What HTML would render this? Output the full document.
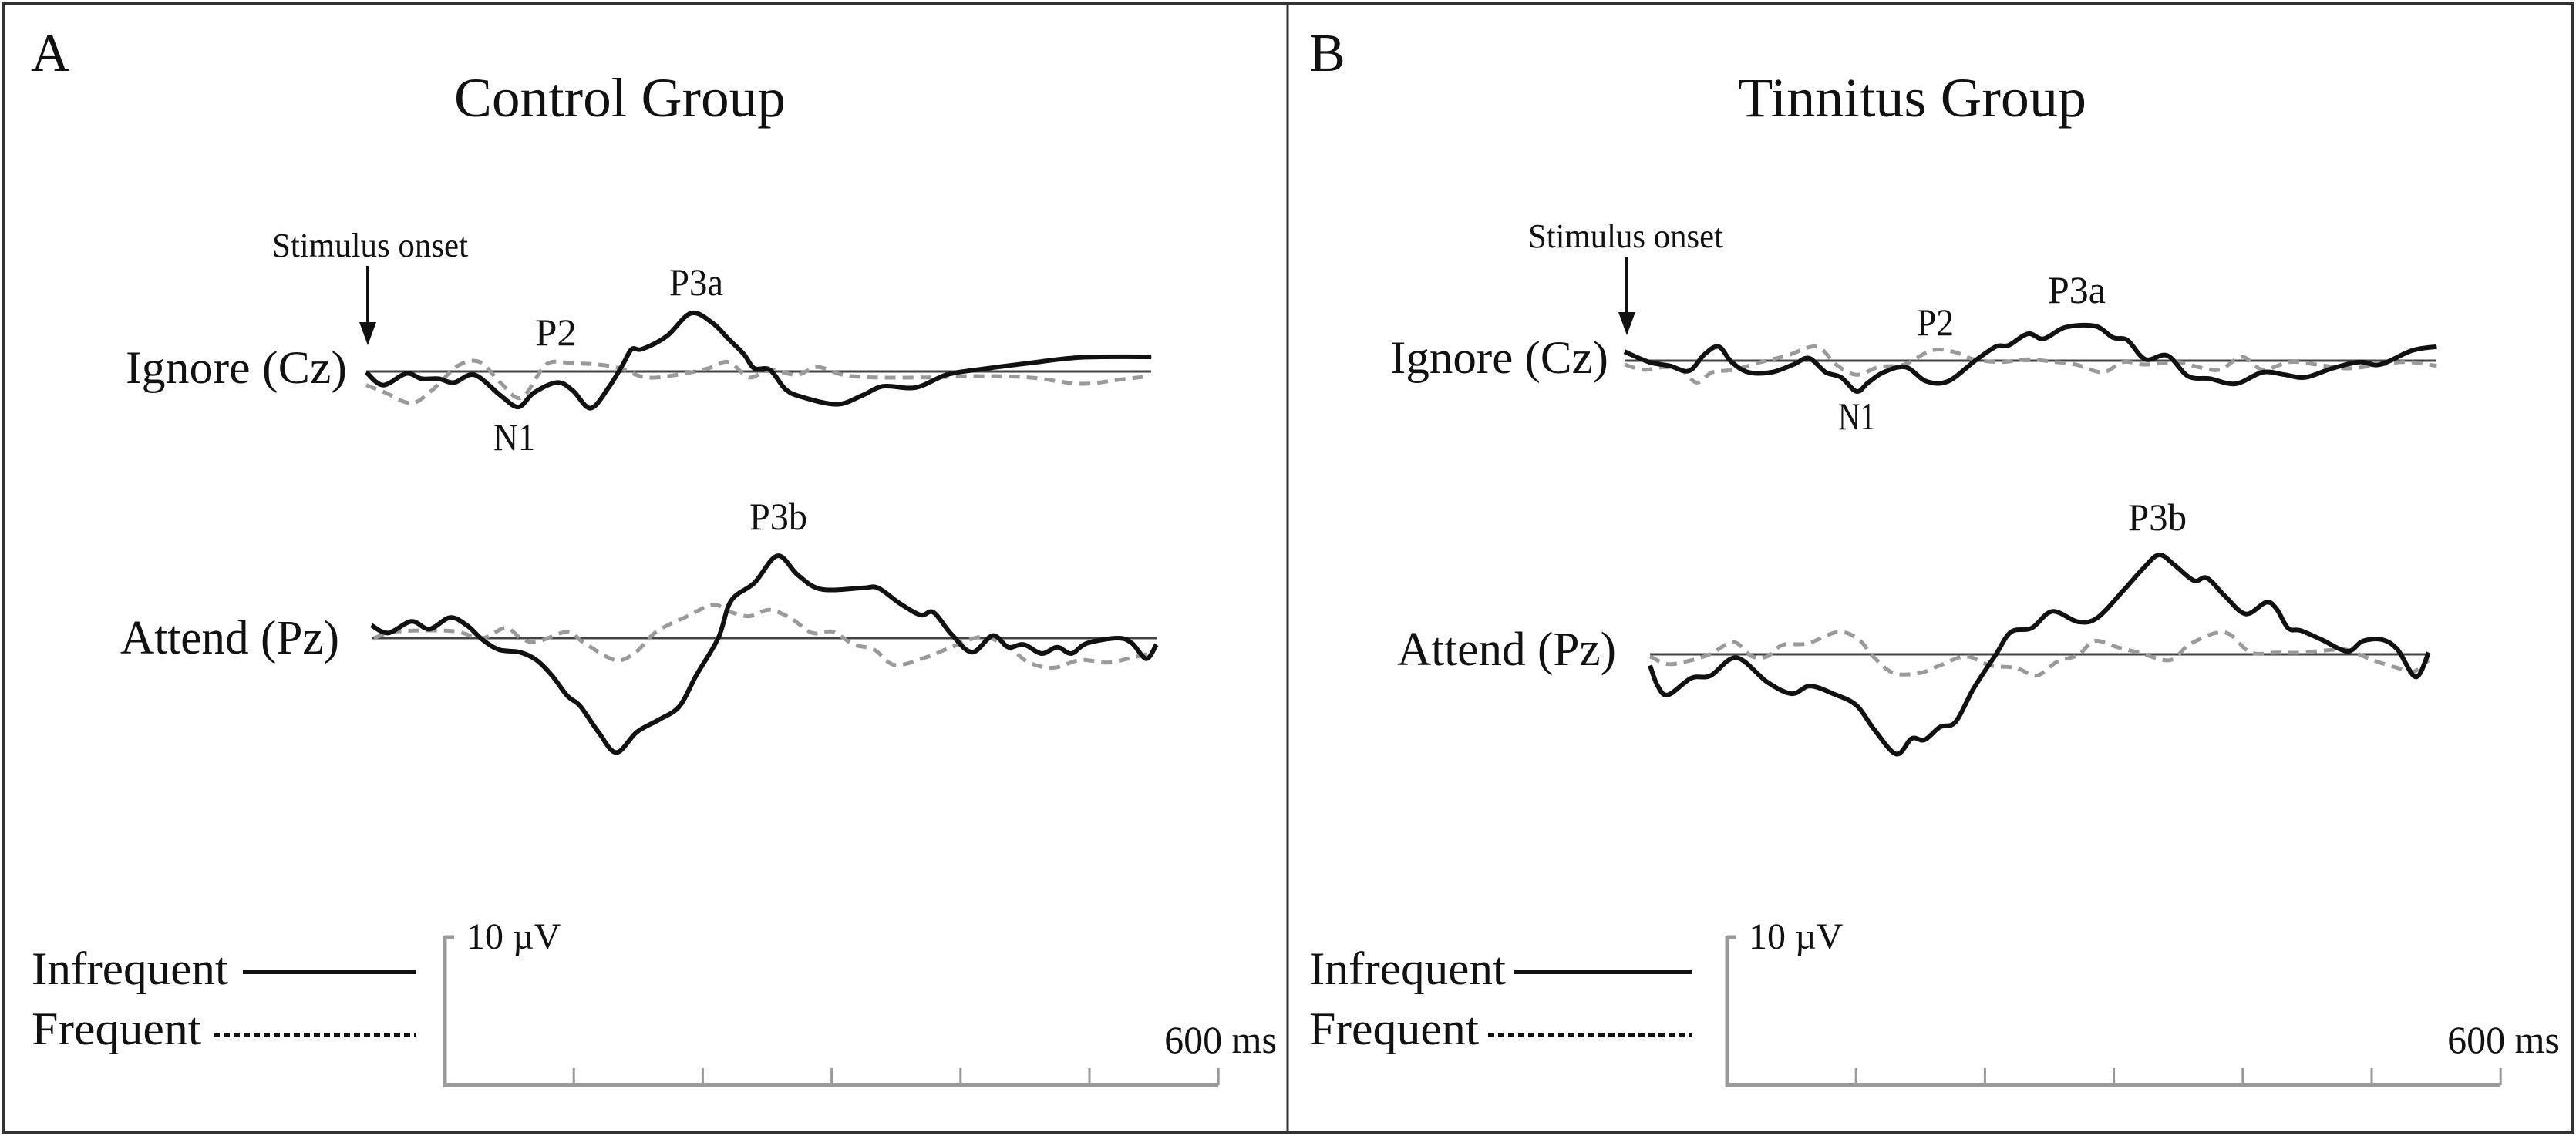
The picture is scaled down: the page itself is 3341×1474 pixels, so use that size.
<!DOCTYPE html>
<html><head><meta charset="utf-8"><style>
html,body{margin:0;padding:0;background:#fff}
svg{display:block}
text{font-family:"Liberation Serif",serif;fill:#111}
</style></head><body>
<svg id="fig" width="3341" height="1474" viewBox="0 0 3341 1474" xmlns="http://www.w3.org/2000/svg">
<rect x="4" y="4" width="3333" height="1465" fill="#fff" stroke="#333" stroke-width="4"/>
<line x1="1670" y1="4" x2="1670" y2="1469" stroke="#333" stroke-width="3"/>
<g id="panelA">
<text x="40" y="92" font-size="70">A</text>
<text x="589" y="151" font-size="72" textLength="430" lengthAdjust="spacingAndGlyphs">Control Group</text>
<text x="353" y="333" font-size="44" textLength="254" lengthAdjust="spacingAndGlyphs">Stimulus onset</text>
<line x1="477" y1="345" x2="477" y2="425" stroke="#111" stroke-width="4"/>
<polygon points="466,418 488,418 477,448" fill="#111"/>
<text x="163" y="497" font-size="60" textLength="287" lengthAdjust="spacingAndGlyphs">Ignore (Cz)</text>
<text x="156" y="848" font-size="62" textLength="284" lengthAdjust="spacingAndGlyphs">Attend (Pz)</text>
<text x="868" y="383" font-size="50" textLength="70" lengthAdjust="spacingAndGlyphs">P3a</text>
<text x="694" y="448" font-size="50" textLength="54" lengthAdjust="spacingAndGlyphs">P2</text>
<text x="640" y="584" font-size="50" textLength="54" lengthAdjust="spacingAndGlyphs">N1</text>
<text x="972" y="687" font-size="50" textLength="75" lengthAdjust="spacingAndGlyphs">P3b</text>
<text x="41" y="1277" font-size="60" textLength="255" lengthAdjust="spacingAndGlyphs">Infrequent</text>
<line x1="315" y1="1261" x2="539" y2="1261" stroke="#111" stroke-width="6"/>
<text x="41" y="1355" font-size="60" textLength="220" lengthAdjust="spacingAndGlyphs">Frequent</text>
<line x1="277" y1="1343" x2="539" y2="1343" stroke="#111" stroke-width="6" stroke-dasharray="8 5"/>
</g>
<g id="panelB">
<text x="1698" y="92" font-size="70">B</text>
<text x="2254" y="151" font-size="72" textLength="452" lengthAdjust="spacingAndGlyphs">Tinnitus Group</text>
<text x="1982" y="321" font-size="44" textLength="253" lengthAdjust="spacingAndGlyphs">Stimulus onset</text>
<line x1="2110" y1="333" x2="2110" y2="412" stroke="#111" stroke-width="4"/>
<polygon points="2099,405 2121,405 2110,435" fill="#111"/>
<text x="1803" y="484" font-size="60" textLength="283" lengthAdjust="spacingAndGlyphs">Ignore (Cz)</text>
<text x="1812" y="863" font-size="62" textLength="284" lengthAdjust="spacingAndGlyphs">Attend (Pz)</text>
<text x="2656" y="393" font-size="50" textLength="75" lengthAdjust="spacingAndGlyphs">P3a</text>
<text x="2486" y="435" font-size="50" textLength="48" lengthAdjust="spacingAndGlyphs">P2</text>
<text x="2384" y="557" font-size="50" textLength="48" lengthAdjust="spacingAndGlyphs">N1</text>
<text x="2760" y="688" font-size="50" textLength="76" lengthAdjust="spacingAndGlyphs">P3b</text>
<text x="1698" y="1277" font-size="60" textLength="255" lengthAdjust="spacingAndGlyphs">Infrequent</text>
<line x1="1964" y1="1261" x2="2194" y2="1261" stroke="#111" stroke-width="6"/>
<text x="1698" y="1355" font-size="60" textLength="220" lengthAdjust="spacingAndGlyphs">Frequent</text>
<line x1="1930" y1="1343" x2="2194" y2="1343" stroke="#111" stroke-width="6" stroke-dasharray="8 5"/>
</g>
</svg>
<script>
// ---- data (time in ms, amplitude in µV, positive up) ----
const aIgnInfT=[0,13,31,43,56,68,84,104,118,130,148,160,174,188,199,206,214,233,252,269,281,293,301,313,325,337,365,385,401,426,450,474,514,554,609];
const aIgnInfV=[-0.05,-0.92,-0.14,-0.49,-0.49,-0.75,-0.23,-1.61,-2.4,-1.44,-0.75,-1.27,-2.48,-1.09,0.47,1.51,1.51,2.38,3.94,3.25,2.2,1.16,0.21,0.12,-1.18,-1.7,-2.22,-1.61,-1.0,-1.09,-0.23,0.12,0.56,0.95,0.99];
const aIgnFreT=[0,15,35,51,71,88,104,120,136,144,160,180,197,217,241,265,281,297,313,334,350,370,394,434,474,514,554,583,607];
const aIgnFreV=[-0.92,-1.44,-2.14,-1.27,0.38,0.64,-0.75,-1.79,0.12,0.64,0.56,0.47,0.21,-0.4,-0.23,0.21,0.64,-0.4,0.12,-0.23,0.3,-0.23,-0.4,-0.4,-0.31,-0.4,-0.83,-0.57,-0.31];
const aAttInfT=[4,17,35,49,65,78,90,103,119,132,144,156,166,180,194,210,228,243,256,273,283,301,319,335,353,385,397,414,430,440,454,470,486,498,510,524,536,547,559,583,594,605,613];
const aAttInfV=[0.87,0.35,1.13,0.61,1.39,0.87,-0.09,-0.78,-0.95,-1.48,-2.52,-3.9,-4.6,-6.34,-7.73,-6.34,-5.47,-4.6,-2.52,0,2.52,3.73,5.56,4.25,3.3,3.39,3.39,2.34,1.56,1.74,0.26,-0.95,0.17,-0.61,-0.43,-1.04,-0.61,-1.04,-0.35,0,-0.35,-1.39,-0.43];
const aAttFreT=[6,22,51,71,90,108,120,132,156,168,193,209,225,249,269,281,297,313,330,346,362,378,394,410,434,454,478,498,514,533,554,575,595,611];
const aAttFreV=[0,0.43,0.52,0.43,0,0.69,0,-0.26,0.43,-0.26,-1.48,-0.95,0.43,1.48,2.26,1.82,1.48,1.91,1.3,0.35,0.43,-0.43,-0.78,-1.82,-1.3,-0.61,0.09,-0.61,-1.65,-2.0,-1.48,-1.65,-1.3,-0.95];
const bIgnInfT=[0,19,35,50,62,73,83,96,114,131,143,156,168,180,189,201,218,234,251,272,288,298,313,325,342,365,379,390,404,421,437,454,474,495,512,528,549,570,586,611,630];
const bIgnInfV=[0.61,-0.09,-0.35,-0.69,0.43,0.95,-0.09,-0.78,-0.78,-0.26,0.17,-0.78,-1.13,-2.08,-1.48,-0.78,-0.43,-1.39,-1.39,0,0.95,1.04,1.82,1.48,2.26,2.34,1.56,1.39,0.09,0.35,-1.04,-1.22,-1.56,-0.78,-0.95,-1.13,-0.52,-0.09,-0.26,0.69,0.95];
const bIgnFreT=[0,15,31,44,56,68,85,106,126,149,164,180,197,217,238,255,271,292,313,334,350,371,387,404,429,445,462,479,495,516,537,561,586,607,630];
const bIgnFreV=[-0.26,-0.61,-0.43,-0.61,-1.48,-0.78,-0.61,-0.09,0.35,0.95,-0.26,-0.95,-0.43,-0.26,0.69,0.61,0.09,-0.09,0.09,-0.09,-0.26,-0.78,-0.09,-0.26,-0.09,-0.43,-0.61,0.26,-0.61,-0.09,-0.26,-0.52,-0.26,-0.09,-0.35];
const bAttInfT=[0,6,14,32,47,67,91,110,124,142,160,174,191,203,213,225,237,251,268,280,296,312,332,347,367,383,395,407,422,432,446,462,478,486,495,505,521,541,553,568,580,594,604];
const bAttInfV=[-0.75,-2.14,-2.74,-1.61,-1.44,-0.23,-1.88,-2.66,-2.14,-2.66,-3.44,-5.09,-6.74,-5.69,-5.78,-4.91,-4.57,-2.31,-0.05,1.51,1.77,2.9,2.2,2.47,4.29,5.85,6.72,6.02,4.98,5.16,3.94,2.73,3.51,3.07,1.77,1.6,0.99,0.21,0.9,0.99,0.3,-1.53,0.12];
const bAttFreT=[0,14,32,47,65,79,91,103,122,146,162,174,189,209,225,245,264,284,300,316,332,345,363,379,403,418,438,450,466,486,505,529,541,561,580,592,604];
const bAttFreV=[-0.14,-0.66,-0.4,0.03,0.82,-0.14,-0.14,0.64,0.73,1.51,0.99,-0.23,-1.27,-1.27,-0.75,-0.14,-0.75,-0.92,-1.44,-0.49,-0.05,0.9,0.47,0.12,-0.4,0.64,1.42,1.34,0.12,0.12,0.12,0.3,0.3,-0.4,-0.92,-1.18,-0.4];
const scaleTicksMs=[0,100,200,300,400,500,600];
const scaleLabelUv="10 µV";
const scaleLabelMs="600 ms";
const scaleUv=10;

const NS="http://www.w3.org/2000/svg";
const PXMS=1.672, PXUV=19.2;
const svg=document.getElementById('fig');
function xs(x0,t){return x0+t*PXMS;}
function ys(base,v){return base-v*PXUV;}
function pathD(x0,base,T,V){
  const p=T.map((t,i)=>[xs(x0,t),ys(base,V[i])]);
  let d="M"+p[0][0].toFixed(1)+","+p[0][1].toFixed(1);
  for(let i=0;i<p.length-1;i++){
    const p0=p[Math.max(0,i-1)],p1=p[i],p2=p[i+1],p3=p[Math.min(p.length-1,i+2)];
    const c1=[p1[0]+(p2[0]-p0[0])/6,p1[1]+(p2[1]-p0[1])/6];
    const c2=[p2[0]-(p3[0]-p1[0])/6,p2[1]-(p3[1]-p1[1])/6];
    d+=" C"+c1[0].toFixed(1)+","+c1[1].toFixed(1)+" "+c2[0].toFixed(1)+","+c2[1].toFixed(1)+" "+p2[0].toFixed(1)+","+p2[1].toFixed(1);
  }
  return d;
}
function baseline(g,x1,x2,y,name){
  const l=document.createElementNS(NS,'line');
  l.setAttribute('x1',x1);l.setAttribute('x2',x2);l.setAttribute('y1',y);l.setAttribute('y2',y);
  l.setAttribute('stroke','#444');l.setAttribute('stroke-width','3');
  
  
  g.appendChild(l);
}
function wave(g,x0,base,T,V,dashed,name){
  const p=document.createElementNS(NS,'path');
  p.setAttribute('d',pathD(x0,base,T,V));
  p.setAttribute('fill','none');
  p.setAttribute('stroke-linejoin','round');
  if(dashed){p.setAttribute('stroke','#9a9a9a');p.setAttribute('stroke-width','5');p.setAttribute('stroke-dasharray','14 9');}
  else{p.setAttribute('stroke','#111');p.setAttribute('stroke-width','6');}
  
  
  g.appendChild(p);
}
function scaleBar(g,x0,yb,yt,labX,msRight,suffix){
  const v=document.createElementNS(NS,'line');
  v.setAttribute('x1',x0);v.setAttribute('x2',x0);v.setAttribute('y1',yb-scaleUv*PXUV-2);v.setAttribute('y2',yb+3);
  v.setAttribute('stroke','#999');v.setAttribute('stroke-width','5');
  
  
  g.appendChild(v);
  const tick=document.createElementNS(NS,'line');
  const ty=yb-scaleUv*PXUV;
  tick.setAttribute('x1',x0);tick.setAttribute('x2',x0+12);tick.setAttribute('y1',ty);tick.setAttribute('y2',ty);
  tick.setAttribute('stroke','#999');tick.setAttribute('stroke-width','5');
  
  
  g.appendChild(tick);
  const last=scaleTicksMs[scaleTicksMs.length-1];
  const h=document.createElementNS(NS,'line');
  h.setAttribute('x1',x0);h.setAttribute('x2',xs(x0,last));h.setAttribute('y1',yb);h.setAttribute('y2',yb);
  h.setAttribute('stroke','#999');h.setAttribute('stroke-width','6');
  
  
  g.appendChild(h);
  scaleTicksMs.forEach(t=>{
    if(t===0)return;
    const k=document.createElementNS(NS,'line');
    k.setAttribute('x1',xs(x0,t));k.setAttribute('x2',xs(x0,t));k.setAttribute('y1',yb-22);k.setAttribute('y2',yb);
    k.setAttribute('stroke','#999');k.setAttribute('stroke-width','3');
    
    
    g.appendChild(k);
  });
  const t1=document.createElementNS(NS,'text');
  t1.setAttribute('x',labX);t1.setAttribute('y',yb-scaleUv*PXUV+15);t1.setAttribute('font-size','48');
  t1.textContent=scaleLabelUv;
  
  
  g.appendChild(t1);
  const t2=document.createElementNS(NS,'text');
  t2.setAttribute('x',msRight);t2.setAttribute('y',yb-42);t2.setAttribute('font-size','50');t2.setAttribute('text-anchor','end');
  t2.textContent=scaleLabelMs;
  
  
  g.appendChild(t2);
}
const gA=document.getElementById('panelA'), gB=document.getElementById('panelB');
baseline(gA,475,1493,482,'ignore-baseline-a');
wave(gA,475,482,aIgnFreT,aIgnFreV,true,'ignore-frequent-wave-a');
wave(gA,475,482,aIgnInfT,aIgnInfV,false,'ignore-infrequent-wave-a');
baseline(gA,482,1500,828,'attend-baseline-a');
wave(gA,475,828,aAttFreT,aAttFreV,true,'attend-frequent-wave-a');
wave(gA,475,828,aAttInfT,aAttInfV,false,'attend-infrequent-wave-a');
scaleBar(gA,577,1408,0,605,1656,'a');
baseline(gB,2107,3160,468,'ignore-baseline-b');
wave(gB,2107,468,bIgnFreT,bIgnFreV,true,'ignore-frequent-wave-b');
wave(gB,2107,468,bIgnInfT,bIgnInfV,false,'ignore-infrequent-wave-b');
baseline(gB,2140,3150,849,'attend-baseline-b');
wave(gB,2140,849,bAttFreT,bAttFreV,true,'attend-frequent-wave-b');
wave(gB,2140,849,bAttInfT,bAttInfV,false,'attend-infrequent-wave-b');
scaleBar(gB,2240,1408,0,2268,3320,'b');
</script>
</body></html>
